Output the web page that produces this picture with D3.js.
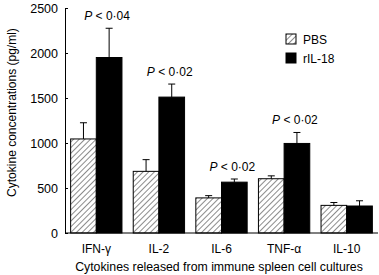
<!DOCTYPE html>
<html>
<head>
<meta charset="utf-8">
<script src="https://cdn.jsdelivr.net/npm/d3@7"></script>
<style>
  body { margin: 0; background: #fff; }
  svg { font-family: "Liberation Sans", Arial, sans-serif; }
</style>
</head>
<body>
<div id="viz"></div>
<script>
const width = 379;
const height = 275;
const margin = {top: 8, right: 3, bottom: 42, left: 65};

// Data
const cytokines = ['IFN-γ', 'IL-2', 'IL-6', 'TNF-α', 'IL-10'];
const groups = ['PBS', 'rIL-18'];
const pbsMeans = [1045, 685, 390, 603, 307];
const pbsErrors = [180, 130, 25, 32, 32];
const rilMeans = [1950, 1510, 565, 995, 300];
const rilErrors = [325, 145, 35, 122, 58];
const pLabels = ['P < 0·04', 'P < 0·02', 'P < 0·02', 'P < 0·02', null];
const yTicks = [0, 500, 1000, 1500, 2000, 2500];

const data = cytokines.map((c, i) => ({
  name: c,
  values: [
    {group: 'PBS', mean: pbsMeans[i], err: pbsErrors[i]},
    {group: 'rIL-18', mean: rilMeans[i], err: rilErrors[i]}
  ],
  p: pLabels[i]
}));

const svg = d3.select('#viz')
  .append('svg')
    .attr('width', width)
    .attr('height', height);

// hatch pattern for PBS
const defs = svg.append('defs');
const pattern = defs.append('pattern')
    .attr('id', 'hatch')
    .attr('patternUnits', 'userSpaceOnUse')
    .attr('width', 4)
    .attr('height', 4)
    .attr('patternTransform', 'rotate(45)');
pattern.append('rect').attr('width', 4).attr('height', 4).attr('fill', '#fff');
pattern.append('line')
    .attr('x1', 0).attr('y1', 0).attr('x2', 0).attr('y2', 4)
    .attr('stroke', '#000').attr('stroke-width', 0.9);

const x0 = d3.scaleBand()
  .domain(cytokines)
  .range([margin.left, 378])
  .paddingInner(0.18)
  .paddingOuter(0.09);
const x1 = d3.scaleBand()
  .domain(groups)
  .range([0, x0.bandwidth()]);
const y = d3.scaleLinear()
  .domain([0, 2500])
  .range([height - margin.bottom, margin.top]);

// bars
const grp = svg.append('g').selectAll('g')
  .data(data)
  .join('g')
    .attr('transform', d => `translate(${x0(d.name)},0)`);

grp.selectAll('rect')
  .data(d => d.values)
  .join('rect')
    .attr('x', d => x1(d.group))
    .attr('y', d => y(d.mean))
    .attr('width', x1.bandwidth())
    .attr('height', d => y(0) - y(d.mean))
    .attr('fill', d => d.group === 'PBS' ? 'url(#hatch)' : '#000')
    .attr('stroke', '#000')
    .attr('stroke-width', 1);

// error bars
const capW = 7;
grp.selectAll('.err')
  .data(d => d.values)
  .join('path')
    .attr('class', 'err')
    .attr('d', d => {
      const cx = x1(d.group) + x1.bandwidth() / 2;
      return `M${cx},${y(d.mean)}V${y(d.mean + d.err)}M${cx - capW / 2},${y(d.mean + d.err)}H${cx + capW / 2}`;
    })
    .attr('stroke', '#000')
    .attr('fill', 'none')
    .attr('stroke-width', 1);

// p labels
const pText = grp.filter(d => d.p)
  .append('text')
    .attr('x', x1('rIL-18') + x1.bandwidth() / 2 - 2)
    .attr('y', d => y(d.values[1].mean + d.values[1].err) - 8)
    .attr('text-anchor', 'middle')
    .style('font-size', '12px');
pText.append('tspan').style('font-style', 'italic').text('P');
pText.append('tspan').text(d => d.p.slice(1));

// y axis
const yAxis = d3.axisLeft(y).tickValues(yTicks).tickFormat(d3.format('d'))
  .tickSizeInner(-3).tickSizeOuter(0).tickPadding(7);
const yG = svg.append('g')
    .attr('transform', `translate(${margin.left},0)`)
    .call(yAxis);
yG.selectAll('text').style('font-size', '12.5px').attr('fill', '#000');
yG.selectAll('line, path').attr('stroke', '#000');

// x axis line
svg.append('line')
    .attr('x1', margin.left)
    .attr('x2', 378)
    .attr('y1', y(0))
    .attr('y2', y(0))
    .attr('stroke', '#000');

// category labels
svg.selectAll('.cat')
  .data(cytokines)
  .join('text')
    .attr('class', 'cat')
    .attr('x', d => x0(d) + x0.bandwidth() / 2)
    .attr('y', 253)
    .attr('text-anchor', 'middle')
    .style('font-size', '12px')
    .text(d => d);

// axis titles
svg.append('text')
    .attr('x', 219)
    .attr('y', 271)
    .attr('text-anchor', 'middle')
    .style('font-size', '12.3px')
    .text('Cytokines released from immune spleen cell cultures');
svg.append('text')
    .attr('transform', `translate(16,${(margin.top + y(0)) / 2 - 8}) rotate(-90)`)
    .attr('text-anchor', 'middle')
    .style('font-size', '12px')
    .text('Cytokine concentrations (pg/ml)');

// legend
const legend = svg.append('g')
    .attr('transform', 'translate(286,34)');
legend.selectAll('rect')
  .data(groups)
  .join('rect')
    .attr('x', 0)
    .attr('y', (d, i) => i * 19)
    .attr('width', 10)
    .attr('height', 10)
    .attr('fill', d => d === 'PBS' ? 'url(#hatch)' : '#000')
    .attr('stroke', '#000');
legend.selectAll('text')
  .data(groups)
  .join('text')
    .attr('x', 17)
    .attr('y', (d, i) => i * 19 + 10)
    .style('font-size', '12px')
    .text(d => d);
</script>
</body>
</html>
